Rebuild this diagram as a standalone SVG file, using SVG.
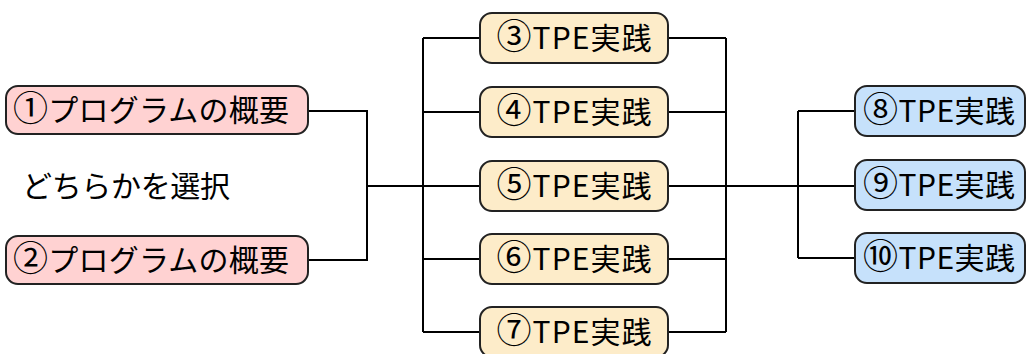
<svg xmlns="http://www.w3.org/2000/svg" width="1027" height="354" viewBox="0 0 1027 354">
<style>
.box{stroke:#222;stroke-width:2}
.pink{fill:#ffd2d2}
.cream{fill:#fdecc9}
.blue{fill:#c6e1fb}
.t{font-family:"Noto Sans CJK JP","Noto Sans",sans-serif;font-size:30px;fill:#000;text-anchor:middle}
.n{font-size:35px}
.c{fill:none;stroke:#000;stroke-width:2}
</style>
<rect width="1027" height="354" fill="#fff"/>
<g id="connectors">
<path class="c" d="M308 111H367V260H308M367 186H480"/>
<path class="c" d="M423 38V332M423 38H480M423 112H480M423 186H480M423 259H480M423 332H480"/>
<path class="c" d="M668 38H726M668 112H726M668 186H726M668 259H726M668 332H726M726 38V332M726 186H798M798 111V258M798 111H855M798 186H855M798 258H855"/>
</g>
<g id="n1"><rect class="box pink" x="6" y="86" width="302" height="48" rx="12"/><text class="t" x="151" y="121" textLength="276" lengthAdjust="spacing"><tspan class="n">①</tspan>プログラムの概要</text></g>
<g id="n2"><rect class="box pink" x="6" y="236" width="302" height="48" rx="12"/><text class="t" x="151" y="271" textLength="276" lengthAdjust="spacing"><tspan class="n">②</tspan>プログラムの概要</text></g>
<g id="label"><text class="t" x="126" y="197" textLength="208" lengthAdjust="spacing">どちらかを選択</text></g>
<g id="n3"><rect class="box cream" x="480" y="13" width="188" height="50" rx="12"/><text class="t" x="574" y="49" textLength="155" lengthAdjust="spacing"><tspan class="n">③</tspan>TPE実践</text></g>
<g id="n4"><rect class="box cream" x="480" y="87" width="188" height="50" rx="12"/><text class="t" x="574" y="123" textLength="155" lengthAdjust="spacing"><tspan class="n">④</tspan>TPE実践</text></g>
<g id="n5"><rect class="box cream" x="480" y="161" width="188" height="50" rx="12"/><text class="t" x="574" y="197" textLength="155" lengthAdjust="spacing"><tspan class="n">⑤</tspan>TPE実践</text></g>
<g id="n6"><rect class="box cream" x="480" y="234" width="188" height="50" rx="12"/><text class="t" x="574" y="270" textLength="155" lengthAdjust="spacing"><tspan class="n">⑥</tspan>TPE実践</text></g>
<g id="n7"><rect class="box cream" x="480" y="307" width="188" height="50" rx="12"/><text class="t" x="574" y="343" textLength="155" lengthAdjust="spacing"><tspan class="n">⑦</tspan>TPE実践</text></g>
<g id="n8"><rect class="box blue" x="855" y="86" width="170" height="50" rx="12"/><text class="t" x="939" y="122" textLength="152" lengthAdjust="spacing"><tspan class="n">⑧</tspan>TPE実践</text></g>
<g id="n9"><rect class="box blue" x="855" y="160" width="170" height="50" rx="12"/><text class="t" x="939" y="196" textLength="152" lengthAdjust="spacing"><tspan class="n">⑨</tspan>TPE実践</text></g>
<g id="n10"><rect class="box blue" x="855" y="233" width="170" height="50" rx="12"/><text class="t" x="939" y="269" textLength="152" lengthAdjust="spacing"><tspan class="n">⑩</tspan>TPE実践</text></g>
</svg>
